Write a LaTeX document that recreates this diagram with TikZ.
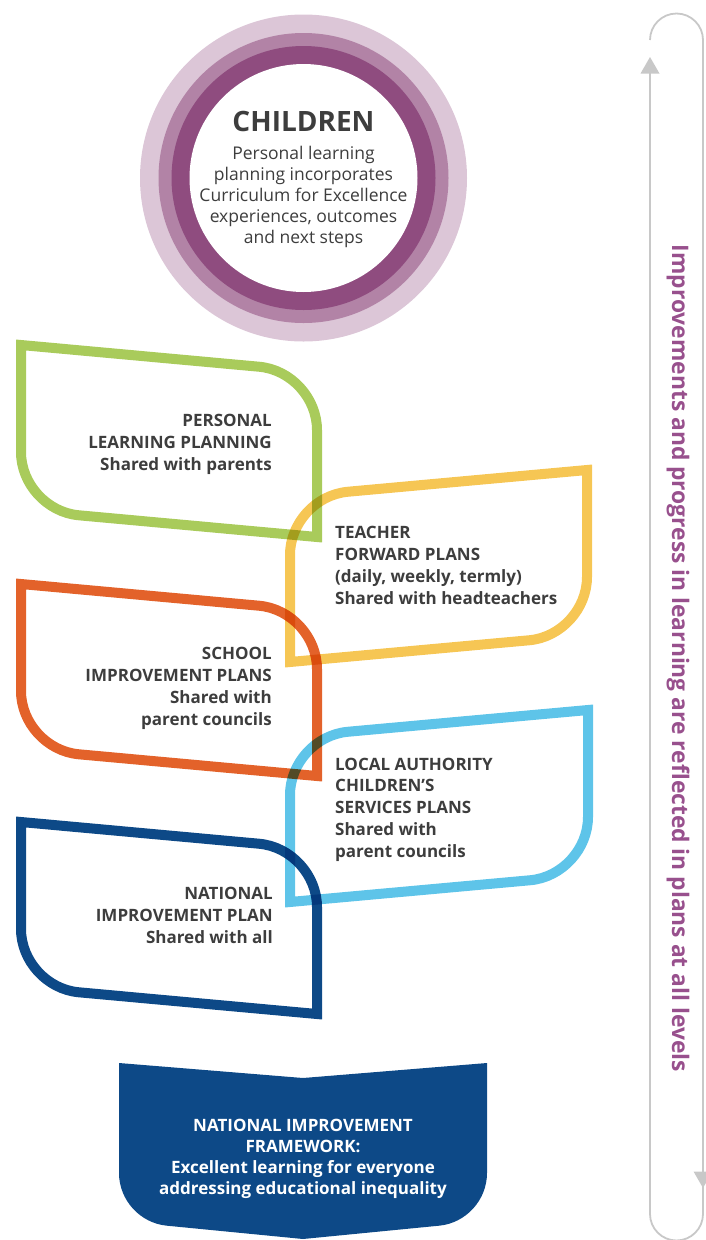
\documentclass[tikz,border=0pt]{standalone}
\usepackage{fontspec}
\setmainfont{Open Sans}
\usetikzlibrary{calc}
\definecolor{ringA}{HTML}{DCC6D7}
\definecolor{ringB}{HTML}{B283A6}
\definecolor{ringC}{HTML}{8F4C7F}
\definecolor{cgreen}{HTML}{A9CB5B}
\definecolor{cyellow}{HTML}{F6C654}
\definecolor{corange}{HTML}{E3622A}
\definecolor{clight}{HTML}{5EC4E9}
\definecolor{cdark}{HTML}{0D4987}
\definecolor{ctext}{HTML}{3D3D3D}
\definecolor{cpurple}{HTML}{98508D}
\definecolor{cgray}{HTML}{C8C8C8}
\begin{document}
\begin{tikzpicture}[x=1pt,y=-1pt,
  leaf/.style={line width=10pt, line join=miter},
  lefttext/.style={anchor=base east, align=right, inner sep=0pt, text=ctext,
    font=\fontsize{17}{21.7}\selectfont\bfseries},
  righttext/.style={anchor=base west, align=left, inner sep=0pt, text=ctext,
    font=\fontsize{17}{21.7}\selectfont\bfseries},
  loopline/.style={draw=cgray, line width=1.8pt}
]
\useasboundingbox (0,0) rectangle (705,1240);

% ---------- children circle ----------
\fill[ringA] (303.5,178) circle[radius=163.5pt];
\fill[ringB] (303.5,178) circle[radius=145pt];
\fill[ringC] (303.5,178) circle[radius=132pt];
\fill[white] (303.5,178) circle[radius=114pt];
\node[anchor=base, inner sep=0pt, text=ctext, font=\fontsize{28}{32}\selectfont\bfseries] (children) at (303.5,131) {CHILDREN};
\node[anchor=base, align=center, inner sep=0pt, text=ctext, font=\fontsize{17.5}{20.8}\selectfont] (childtext) at (303.5,243)
  {Personal learning\\planning incorporates\\Curriculum for Excellence\\experiences, outcomes\\and next steps};

% ---------- leaf shapes ----------
\newcommand{\leafshape}[5]{% colour, start corner, rounded corner, sharp corner, rounded corner
  \draw[leaf, draw=#1] #2 -- ($#3!58pt!#2$) .. controls ($#3!26pt!#2$) and ($#3!26pt!#4$) .. ($#3!58pt!#4$)
     -- #4 -- ($#5!58pt!#4$) .. controls ($#5!26pt!#4$) and ($#5!26pt!#2$) .. ($#5!58pt!#2$) -- cycle;}

\begin{scope}[blend group=multiply]
\leafshape{cgreen}{(21,345)}{(317,372)}{(317,537)}{(21,510)}
\leafshape{cyellow}{(587,470)}{(587,635)}{(290,662)}{(290,497)}
\leafshape{corange}{(21,584)}{(317,611)}{(317,776)}{(21,749)}
\leafshape{clight}{(588,710)}{(588,875)}{(290,902)}{(290,737)}
\leafshape{cdark}{(21,822)}{(317,849)}{(317,1014)}{(21,987)}
\end{scope}

\node[lefttext] (plp) at (272,470) {PERSONAL\\LEARNING PLANNING\hspace*{4.5pt}\\Shared with parents};
\node[righttext] (tfp) at (335,604) {TEACHER\\FORWARD PLANS\\(daily, weekly, termly)\\Shared with headteachers};
\node[lefttext] (sip) at (272,725) {SCHOOL\\IMPROVEMENT PLANS\\Shared with\\parent councils};
\node[righttext] (lac) at (335,857) {LOCAL AUTHORITY\\CHILDREN’S\\SERVICES PLANS\\Shared with\\parent councils};
\node[lefttext] (nip) at (273,943) {NATIONAL\\IMPROVEMENT PLAN\\Shared with all};

% ---------- bottom framework box ----------
\fill[cdark] (119,1063) -- (303,1078) -- (487,1063)
  -- ($(487,1221)!48pt!(487,1063)$) .. controls ($(487,1221)!21pt!(487,1063)$) and ($(487,1221)!21pt!(303,1239)$) .. ($(487,1221)!48pt!(303,1239)$)
  -- (303,1239)
  -- ($(119,1221)!48pt!(303,1239)$) .. controls ($(119,1221)!21pt!(303,1239)$) and ($(119,1221)!21pt!(119,1063)$) .. ($(119,1221)!48pt!(119,1063)$)
  -- cycle;
\node[anchor=base, align=center, inner sep=0pt, text=white, font=\fontsize{17}{21}\selectfont\bfseries] (nif) at (303,1194)
  {NATIONAL IMPROVEMENT\\FRAMEWORK:\\Excellent learning for everyone\\addressing educational inequality};

% ---------- right loop ----------
\draw[loopline] (650,73) -- (650,1214)
  .. controls (650,1228.6) and (661.9,1240.5) .. (676.5,1240.5)
  .. controls (691.1,1240.5) and (703,1228.6) .. (703,1214)
  -- (703,1186);
\draw[loopline] (703,1172) -- (703,40)
  .. controls (703,25.4) and (691.1,13.5) .. (676.5,13.5)
  .. controls (661.9,13.5) and (650,25.4) .. (650,40);
\fill[cgray] (650,57) -- (659.5,73.5) -- (640.5,73.5) -- cycle;
\fill[cgray] (703,1188) -- (712.5,1171.5) -- (693.5,1171.5) -- cycle;

\node[rotate=-90, inner sep=0pt, text=cpurple, font=\fontsize{22.8}{26}\selectfont\bfseries] (side) at (678,658.5)
  {Improvements and progress in learning are reflected in plans at all levels};
\end{tikzpicture}
\end{document}
